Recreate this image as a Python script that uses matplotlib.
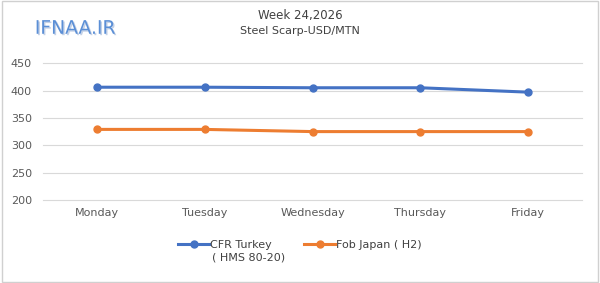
import matplotlib
matplotlib.use("Agg")
import matplotlib.pyplot as plt
import matplotlib.patheffects as pe

days = ["Monday", "Tuesday", "Wednesday", "Thursday", "Friday"]
cfr_turkey = [406, 406, 405, 405, 397]
fob_japan = [329, 329, 325, 325, 325]
yticks = [200, 250, 300, 350, 400, 450]
labels = ["CFR Turkey", "Fob Japan ( H2)"]
label_second_line = "( HMS 80-20)"

fig = plt.figure(figsize=(6.0, 2.83), dpi=100)
ax = fig.add_axes([0.0717, 0.293, 0.8983, 0.484])

x = list(range(len(days)))
ax.plot(x, cfr_turkey, color="#4472C4", lw=2.2, marker="o", ms=5, label=labels[0], zorder=3)
ax.plot(x, fob_japan, color="#ED7D31", lw=2.2, marker="o", ms=5, label=labels[1], zorder=3)

ax.set_xlim(-0.5, len(days) - 0.5)
ax.set_ylim(200, 450)
ax.set_yticks(yticks)
ax.set_xticks(x)
ax.set_xticklabels(days)
ax.grid(axis="y", color="#D9D9D9", lw=0.8)
for gl in ax.get_ygridlines():
    gl.set_clip_on(False)
ax.set_axisbelow(True)
for s in ax.spines.values():
    s.set_visible(False)
ax.tick_params(length=0, labelsize=8, colors="#595959", pad=6)
ax.tick_params(axis="y", pad=8)

fig.text(0.5, 0.945, "Week 24,2026", ha="center", va="center", fontsize=8.5, color="#404040")
fig.text(0.5, 0.89, "Steel Scarp-USD/MTN", ha="center", va="center", fontsize=8, color="#404040")
fig.text(0.058, 0.9, "IFNAA.IR", ha="left", va="center", fontsize=13.5, color="#5B8FD6",
         path_effects=[pe.withSimplePatchShadow(offset=(1, -1), shadow_rgbFace="#9DB3D6", alpha=0.6)])

leg = fig.legend(loc="center", bbox_to_anchor=(0.5, 0.134), ncol=2, frameon=False,
                 fontsize=8, handlelength=2.8, columnspacing=2.9, handletextpad=0.1)
for t in leg.get_texts():
    t.set_color("#404040")

fig.canvas.draw()
bb = leg.get_texts()[0].get_window_extent().transformed(fig.transFigure.inverted())
fig.text(bb.x0 + 0.003, bb.y0 - 0.01, label_second_line, ha="left", va="top", fontsize=8, color="#404040")

border = plt.Rectangle((0.003, 0.005), 0.994, 0.99, transform=fig.transFigure, fill=False,
                       edgecolor="#D0D0D0", lw=1)
fig.patches.append(border)

fig.savefig("out.png", dpi=100)
